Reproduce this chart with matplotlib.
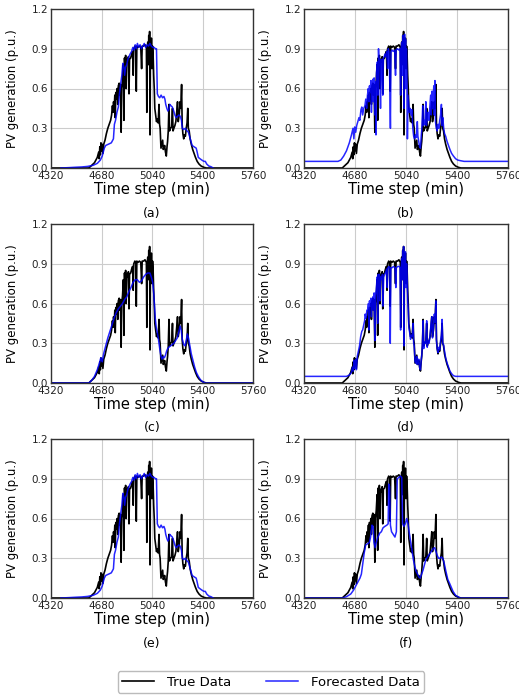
import numpy as np
import matplotlib
matplotlib.use('Agg')
import matplotlib.pyplot as plt

# true PV profile (minutes, p.u.)
true_t = [4320, 4590, 4610, 4630, 4650, 4660, 4664, 4668, 4672, 4676, 4680, 4684, 4690, 4696,
          4705, 4715, 4725, 4735, 4745, 4752, 4758, 4762, 4766, 4770, 4775, 4778, 4782, 4788,
          4792, 4796, 4800, 4806, 4810, 4815, 4820, 4824, 4830, 4836, 4840, 4844, 4848, 4852,
          4856, 4860, 4866, 4872, 4876, 4880, 4888, 4895, 4902, 4906, 4910, 4918, 4924, 4928,
          4932, 4940, 4950, 4960, 4966, 4970, 4980, 4990, 5000, 5003, 5006, 5010, 5013, 5017,
          5020, 5023, 5026, 5029, 5033, 5036, 5040, 5044, 5048, 5052, 5056, 5060, 5066, 5072,
          5078, 5084, 5090, 5094, 5098, 5104, 5110, 5116, 5120, 5125, 5130, 5136, 5142, 5147,
          5151, 5156, 5161, 5165, 5172, 5180, 5186, 5190, 5196, 5203, 5210, 5216, 5222, 5227,
          5234, 5240, 5245, 5251, 5255, 5260, 5266, 5272, 5278, 5284, 5290, 5295, 5299, 5305,
          5312, 5320, 5330, 5340, 5350, 5362, 5375, 5390, 5410, 5428, 5760]
true_v = [0.0, 0.0, 0.02, 0.04, 0.08, 0.12, 0.07, 0.16, 0.10, 0.19, 0.13, 0.18, 0.11, 0.18,
          0.21, 0.26, 0.30, 0.33, 0.36, 0.40, 0.47, 0.42, 0.50, 0.44, 0.55, 0.38, 0.57, 0.52,
          0.60, 0.48, 0.62, 0.64, 0.55, 0.63, 0.27, 0.60, 0.66, 0.78, 0.36, 0.83, 0.70, 0.85,
          0.60, 0.82, 0.80, 0.84, 0.56, 0.82, 0.83, 0.86, 0.88, 0.70, 0.90, 0.92, 0.91, 0.58,
          0.92, 0.91, 0.92, 0.91, 0.75, 0.92, 0.92, 0.93, 0.91, 0.42, 0.90, 0.95, 0.78, 1.00,
          0.85, 1.03, 0.25, 0.95, 0.80, 0.98, 0.75, 0.92, 0.85, 0.70, 0.60, 0.45, 0.40, 0.35,
          0.37, 0.34, 0.48, 0.33, 0.30, 0.15, 0.18, 0.21, 0.14, 0.15, 0.17, 0.12, 0.09, 0.16,
          0.20, 0.28, 0.48, 0.28, 0.30, 0.31, 0.45, 0.28, 0.30, 0.32, 0.35, 0.42, 0.50, 0.35,
          0.40, 0.50, 0.45, 0.63, 0.33, 0.26, 0.22, 0.25, 0.24, 0.30, 0.34, 0.45, 0.30, 0.28,
          0.22, 0.18, 0.14, 0.11, 0.08, 0.05, 0.03, 0.015, 0.005, 0.0, 0.0]

# forecast used in (a) and (e) (both panels show the same curve)
fa_t = [4390, 4450, 4500, 4540, 4580, 4620, 4650, 4672, 4685, 4700, 4710, 4730, 4750, 4765,
        4772, 4780, 4790, 4800, 4808, 4815, 4825, 4832, 4840, 4845, 4852, 4860, 4868, 4875,
        4884, 4895, 4903, 4912, 4920, 4928, 4936, 4945, 4955, 4965, 4975, 4985, 4995, 5005,
        5015, 5025, 5035, 5045, 5055, 5065, 5072, 5078, 5086, 5095, 5105, 5115, 5125, 5132,
        5138, 5146, 5153, 5160, 5167, 5175, 5185, 5195, 5203, 5212, 5222, 5232, 5242, 5250,
        5256, 5265, 5278, 5290, 5300, 5310, 5318, 5326, 5340, 5355, 5362, 5370, 5382, 5395,
        5410, 5420, 5430, 5445, 5460, 5476]
fa_v = [0.0, 0.003, 0.006, 0.008, 0.012, 0.02, 0.035, 0.06, 0.09, 0.15, 0.17, 0.18, 0.19, 0.22,
        0.33, 0.36, 0.42, 0.46, 0.56, 0.62, 0.70, 0.79, 0.76, 0.70, 0.76, 0.78, 0.82, 0.84,
        0.86, 0.88, 0.91, 0.89, 0.93, 0.90, 0.94, 0.91, 0.93, 0.90, 0.92, 0.94, 0.91, 0.93,
        0.92, 0.94, 0.92, 0.91, 0.91, 0.90, 0.90, 0.56, 0.54, 0.53, 0.55, 0.53, 0.54, 0.52,
        0.48, 0.45, 0.43, 0.44, 0.48, 0.47, 0.46, 0.43, 0.40, 0.38, 0.39, 0.40, 0.39, 0.36,
        0.30, 0.29, 0.30, 0.28, 0.27, 0.23, 0.20, 0.17, 0.16, 0.15, 0.12, 0.08, 0.07, 0.06,
        0.05, 0.05, 0.03, 0.015, 0.01, 0.0]

fb_t = [4320, 4560, 4580, 4600, 4620, 4640, 4655, 4666, 4672, 4678, 4685, 4692, 4700, 4708,
        4714, 4722, 4728, 4734, 4742, 4750, 4756, 4762, 4768, 4774, 4778, 4782, 4788, 4792,
        4796, 4800, 4806, 4810, 4815, 4820, 4824, 4828, 4832, 4838, 4842, 4846, 4850, 4855,
        4860, 4864, 4870, 4876, 4880, 4886, 4892, 4898, 4904, 4910, 4915, 4920, 4926, 4930,
        4934, 4940, 4950, 4960, 4966, 4970, 4980, 4990, 4998, 5002, 5006, 5010, 5014, 5018,
        5021, 5024, 5027, 5030, 5034, 5037, 5040, 5043, 5047, 5050, 5054, 5058, 5064, 5070,
        5076, 5082, 5088, 5094, 5100, 5108, 5114, 5120, 5124, 5130, 5136, 5142, 5148, 5152,
        5158, 5162, 5168, 5174, 5180, 5184, 5190, 5196, 5202, 5208, 5214, 5218, 5224, 5230,
        5236, 5240, 5244, 5248, 5254, 5260, 5266, 5272, 5278, 5284, 5290, 5294, 5300, 5306,
        5312, 5320, 5330, 5340, 5350, 5362, 5375, 5390, 5405, 5425, 5450, 5760]
fb_v = [0.05, 0.05, 0.06, 0.09, 0.13, 0.19, 0.25, 0.30, 0.22, 0.31, 0.27, 0.32, 0.35, 0.38,
        0.36, 0.44, 0.46, 0.40, 0.45, 0.47, 0.52, 0.45, 0.55, 0.60, 0.50, 0.62, 0.57, 0.66,
        0.42, 0.63, 0.67, 0.50, 0.68, 0.40, 0.65, 0.25, 0.72, 0.80, 0.55, 0.90, 0.78, 0.82,
        0.45, 0.80, 0.82, 0.55, 0.83, 0.84, 0.86, 0.84, 0.88, 0.75, 0.90, 0.88, 0.62, 0.30,
        0.88, 0.89, 0.88, 0.89, 0.70, 0.89, 0.90, 0.89, 0.90, 0.55, 0.90, 0.95, 0.70, 1.00,
        0.80, 0.98, 0.45, 1.01, 0.85, 0.97, 0.60, 0.90, 0.70, 0.22, 0.55, 0.50, 0.42, 0.45,
        0.40, 0.44, 0.30, 0.24, 0.22, 0.25, 0.23, 0.35, 0.24, 0.20, 0.16, 0.15, 0.25, 0.30,
        0.47, 0.32, 0.36, 0.33, 0.50, 0.32, 0.38, 0.42, 0.36, 0.45, 0.55, 0.40, 0.58, 0.45,
        0.62, 0.40, 0.66, 0.35, 0.30, 0.28, 0.33, 0.30, 0.36, 0.40, 0.48, 0.32, 0.38, 0.30,
        0.26, 0.24, 0.20, 0.17, 0.14, 0.11, 0.09, 0.07, 0.06, 0.055, 0.05, 0.05]

fc_t = [4320, 4590, 4610, 4630, 4650, 4665, 4675, 4685, 4695, 4710, 4725, 4740, 4755, 4770,
        4785, 4800, 4815, 4830, 4845, 4860, 4875, 4890, 4905, 4920, 4935, 4950, 4965, 4980,
        4995, 5010, 5025, 5035, 5045, 5052, 5058, 5064, 5070, 5078, 5086, 5095, 5104, 5112,
        5120, 5128, 5136, 5144, 5152, 5160, 5172, 5184, 5196, 5208, 5220, 5230, 5240, 5248,
        5256, 5266, 5276, 5284, 5292, 5300, 5310, 5320, 5332, 5344, 5356, 5370, 5385, 5400,
        5420, 5760]
fc_v = [0.0, 0.0, 0.02, 0.05, 0.10, 0.15, 0.19, 0.16, 0.22, 0.28, 0.34, 0.39, 0.44, 0.49,
        0.53, 0.56, 0.58, 0.60, 0.63, 0.65, 0.69, 0.72, 0.76, 0.78, 0.78, 0.76, 0.77, 0.80,
        0.82, 0.83, 0.83, 0.80, 0.76, 0.68, 0.58, 0.48, 0.42, 0.38, 0.33, 0.26, 0.20, 0.18,
        0.20, 0.19, 0.21, 0.24, 0.26, 0.27, 0.28, 0.29, 0.30, 0.32, 0.34, 0.38, 0.43, 0.40,
        0.33, 0.29, 0.28, 0.32, 0.37, 0.34, 0.28, 0.22, 0.17, 0.12, 0.08, 0.05, 0.025, 0.01,
        0.0, 0.0]

fd_t = [4320, 4620, 4640, 4655, 4662, 4668, 4674, 4680, 4685, 4690, 4696, 4704, 4712, 4720,
        4728, 4734, 4740, 4748, 4752, 4758, 4764, 4770, 4775, 4778, 4782, 4788, 4792, 4796,
        4800, 4806, 4810, 4815, 4820, 4824, 4830, 4836, 4840, 4844, 4848, 4852, 4856, 4860,
        4868, 4874, 4878, 4882, 4890, 4898, 4904, 4908, 4912, 4920, 4926, 4929, 4933, 4942,
        4952, 4962, 4968, 4972, 4982, 4992, 4998, 5002, 5006, 5010, 5013, 5017, 5020, 5023,
        5026, 5029, 5033, 5036, 5040, 5044, 5048, 5052, 5056, 5060, 5066, 5072, 5078, 5084,
        5090, 5094, 5098, 5104, 5110, 5116, 5120, 5126, 5130, 5136, 5142, 5147, 5152, 5156,
        5161, 5165, 5172, 5180, 5186, 5190, 5196, 5203, 5210, 5216, 5222, 5227, 5234, 5240,
        5245, 5251, 5255, 5260, 5266, 5272, 5278, 5284, 5290, 5295, 5299, 5305, 5312, 5320,
        5330, 5340, 5350, 5362, 5375, 5390, 5760]
fd_v = [0.05, 0.05, 0.06, 0.08, 0.12, 0.09, 0.17, 0.11, 0.18, 0.10, 0.20, 0.24, 0.28, 0.35,
        0.39, 0.40, 0.43, 0.47, 0.52, 0.49, 0.55, 0.55, 0.60, 0.40, 0.62, 0.58, 0.64, 0.50,
        0.62, 0.65, 0.55, 0.68, 0.32, 0.66, 0.70, 0.80, 0.45, 0.82, 0.73, 0.82, 0.62, 0.80,
        0.78, 0.82, 0.58, 0.80, 0.82, 0.84, 0.86, 0.72, 0.87, 0.88, 0.86, 0.30, 0.87, 0.87,
        0.88, 0.87, 0.72, 0.87, 0.88, 0.88, 0.87, 0.40, 0.86, 0.94, 0.78, 1.00, 0.84, 1.03,
        0.28, 0.96, 0.80, 0.99, 0.72, 0.90, 0.80, 0.62, 0.55, 0.42, 0.38, 0.33, 0.36, 0.35,
        0.45, 0.30, 0.28, 0.16, 0.15, 0.20, 0.14, 0.16, 0.18, 0.12, 0.10, 0.17, 0.22, 0.30,
        0.47, 0.26, 0.31, 0.30, 0.47, 0.27, 0.32, 0.30, 0.36, 0.44, 0.50, 0.34, 0.42, 0.52,
        0.46, 0.62, 0.32, 0.26, 0.23, 0.27, 0.25, 0.32, 0.36, 0.48, 0.30, 0.29, 0.24, 0.19,
        0.15, 0.12, 0.09, 0.07, 0.055, 0.05, 0.05]

ff_t = [4320, 4590, 4620, 4650, 4670, 4685, 4700, 4715, 4725, 4735, 4745, 4755, 4770, 4782,
        4790, 4800, 4808, 4814, 4822, 4830, 4842, 4855, 4866, 4878, 4890, 4905, 4914, 4918,
        4924, 4930, 4938, 4950, 4962, 4972, 4978, 4990, 5000, 5010, 5016, 5025, 5035, 5045,
        5054, 5062, 5072, 5082, 5092, 5102, 5112, 5122, 5130, 5140, 5150, 5160, 5170, 5180,
        5192, 5205, 5218, 5230, 5242, 5252, 5261, 5270, 5280, 5290, 5300, 5310, 5322, 5335,
        5348, 5360, 5372, 5390, 5407, 5420, 5760]
ff_v = [0.0, 0.0, 0.01, 0.03, 0.06, 0.09, 0.12, 0.15, 0.18, 0.26, 0.34, 0.40, 0.41, 0.42,
        0.46, 0.55, 0.54, 0.42, 0.38, 0.42, 0.46, 0.49, 0.50, 0.53, 0.54, 0.55, 0.56, 0.86,
        0.84, 0.55, 0.50, 0.48, 0.46, 0.50, 0.90, 0.91, 0.92, 0.91, 0.56, 0.54, 0.56, 0.60,
        0.56, 0.50, 0.43, 0.36, 0.29, 0.24, 0.20, 0.18, 0.16, 0.15, 0.18, 0.21, 0.25, 0.29,
        0.31, 0.33, 0.35, 0.37, 0.38, 0.35, 0.32, 0.30, 0.30, 0.31, 0.30, 0.26, 0.20, 0.14,
        0.11, 0.08, 0.05, 0.02, 0.01, 0.0, 0.0]

panel_labels = ['(a)', '(b)', '(c)', '(d)', '(e)', '(f)']
forecasts = [(fa_t, fa_v), (fb_t, fb_v), (fc_t, fc_v), (fd_t, fd_v), (fa_t, fa_v), (ff_t, ff_v)]
xticks = [4320, 4680, 5040, 5400, 5760]
yticks = [0.0, 0.3, 0.6, 0.9, 1.2]

W, H = 519, 696
fig = plt.figure(figsize=(W / 100, H / 100), dpi=100)

lefts = [51, 304]
widths = [202, 204]
tops = [9, 224, 439]
ax_h = 159

lines = None
for i in range(6):
    r, c = divmod(i, 2)
    ax = fig.add_axes([lefts[c] / W, 1 - (tops[r] + ax_h) / H, widths[c] / W, ax_h / H])
    l1, = ax.plot(true_t, true_v, color='black', lw=1.2, label='True Data')
    ft, fv = forecasts[i]
    l2, = ax.plot(ft, fv, color='blue', lw=1.1, alpha=0.85, label='Forecasted Data')
    lines = [l1, l2]
    ax.set_xlim(4320, 5760)
    ax.set_ylim(0, 1.2)
    ax.set_xticks(xticks)
    ax.set_yticks(yticks)
    ax.set_yticklabels(['%.1f' % y for y in yticks])
    ax.tick_params(labelsize=7.5, length=0, pad=2, colors='#222222')
    ax.grid(True, color='#cccccc', lw=0.8)
    ax.set_axisbelow(True)
    for s in ax.spines.values():
        s.set_color('#333333')
        s.set_linewidth(1.0)
    ax.set_xlabel('Time step (min)', fontsize=10.5, labelpad=1)
    ax.set_ylabel('PV generation (p.u.)', fontsize=8.5, labelpad=9)
    ax.text(0.5, -45 / ax_h, panel_labels[i], transform=ax.transAxes,
            ha='center', va='center', fontsize=9)

fig.legend(lines, ['True Data', 'Forecasted Data'], loc='center',
           bbox_to_anchor=(271 / W, 1 - 682 / H), ncol=2, fontsize=9.5,
           frameon=True, edgecolor='#aaaaaa', handlelength=2.4,
           handletextpad=1.0, columnspacing=2.6, borderpad=0.35)

fig.savefig('out.png', dpi=100)
